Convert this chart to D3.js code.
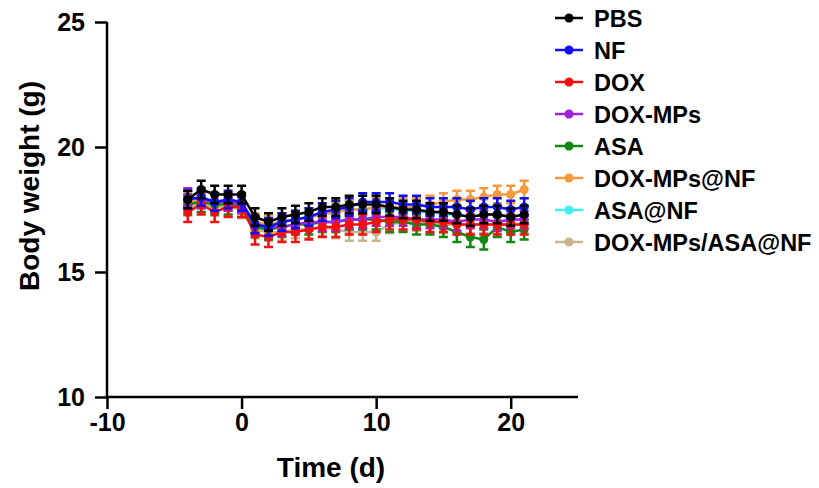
<!DOCTYPE html>
<html>
<head>
<meta charset="utf-8">
<script src="https://cdn.jsdelivr.net/npm/d3@7"></script>
<style>
  body { margin: 0; background: #fff; }
  svg text { font-family: "Liberation Sans", Arial, sans-serif; font-weight: bold; fill: #000; }
</style>
</head>
<body>
<svg id="chart" width="819" height="488"></svg>
<script>
// days of measurement
const days = [-4,-3,-2,-1,0,1,2,3,4,5,6,7,8,9,10,11,12,13,14,15,16,17,18,19,20,21];
const seriesNames = ["PBS","NF","DOX","DOX-MPs","ASA","DOX-MPs@NF","ASA@NF","DOX-MPs/ASA@NF"];
const seriesColors = ["#000000","#1010f0","#f01010","#a020e0","#118811","#f59a3c","#40f0f0","#c8b48c"];

const pbs      = [17.9,18.3,18.1,18.1,18.1,17.2,17.0,17.2,17.3,17.4,17.6,17.6,17.7,17.7,17.7,17.6,17.5,17.5,17.4,17.4,17.3,17.2,17.3,17.3,17.2,17.3];
const nf       = [17.9,18.0,17.8,17.9,17.8,16.9,16.8,17.0,17.1,17.2,17.4,17.5,17.6,17.8,17.8,17.8,17.7,17.7,17.6,17.6,17.6,17.5,17.6,17.6,17.5,17.6];
const dox      = [17.4,17.7,17.4,17.6,17.6,16.5,16.4,16.6,16.6,16.7,16.8,16.8,16.9,16.9,17.0,17.1,17.1,17.1,17.0,17.0,16.9,16.9,16.9,16.9,16.9,16.9];
const doxMPs   = [18.0,17.9,17.8,17.8,17.7,16.9,16.8,16.8,16.9,17.0,17.0,17.0,17.1,17.1,17.2,17.2,17.2,17.1,17.1,17.1,17.0,17.1,17.1,17.0,17.1,17.1];
const asa      = [17.7,17.8,17.7,17.7,17.6,16.8,16.7,16.8,16.9,16.9,17.0,17.0,17.1,17.1,17.1,17.0,17.0,16.9,16.9,16.8,16.6,16.4,16.3,16.8,16.6,16.7];
const doxMPsNF = [17.8,17.9,17.8,17.8,17.7,17.0,16.9,17.0,17.1,17.2,17.3,17.4,17.5,17.5,17.6,17.6,17.6,17.6,17.7,17.8,17.9,17.9,18.0,18.1,18.1,18.3];
const asaNF    = [17.8,17.9,17.8,17.8,17.7,17.0,16.9,17.0,17.1,17.2,17.3,17.4,17.5,17.5,17.6,17.5,17.5,17.4,17.4,17.3,17.3,17.2,17.3,17.3,17.2,17.3];
const comboNF  = [17.6,17.7,17.6,17.6,17.5,16.7,16.6,16.6,16.7,16.7,16.8,16.7,16.6,16.6,16.6,16.9,17.0,17.0,16.9,16.9,16.9,16.9,16.9,16.9,16.9,16.9];
const seriesValues = [pbs, nf, dox, doxMPs, asa, doxMPsNF, asaNF, comboNF];
// error bar half-length (SD) per series
const seriesSD = [0.35, 0.35, 0.4, 0.35, 0.4, 0.35, 0.3, 0.35];

const xTicks = [-10, 0, 10, 20];
const yTicks = [10, 15, 20, 25];

const svg = d3.select("#chart");
const x = d3.scaleLinear().domain([-10, 25]).range([107, 578]);
const y = d3.scaleLinear().domain([10, 25]).range([397, 22]);

// axes
const xAxis = svg.append("g")
    .attr("transform", "translate(0,397)")
    .call(d3.axisBottom(x).tickValues(xTicks).tickSize(12).tickPadding(4).tickFormat(d => String(d)));
const yAxis = svg.append("g")
    .attr("transform", "translate(107,0)")
    .call(d3.axisLeft(y).tickValues(yTicks).tickSize(12).tickPadding(10).tickFormat(d => String(d)));
[xAxis, yAxis].forEach(a => {
    a.select(".domain").attr("stroke", "#000").attr("stroke-width", 2.5);
    a.selectAll(".tick line").attr("stroke", "#000").attr("stroke-width", 2.5);
    a.selectAll(".tick text").attr("font-size", 25).attr("font-family", null);
});
xAxis.select(".domain").attr("d", "M107,0H578");
yAxis.select(".domain").attr("d", "M0,22V397");

svg.append("text")
    .attr("x", 331).attr("y", 477)
    .attr("text-anchor", "middle")
    .attr("font-size", 28)
    .text("Time (d)");
svg.append("text")
    .attr("transform", "translate(39,186) rotate(-90)")
    .attr("text-anchor", "middle")
    .attr("font-size", 28)
    .text("Body weight (g)");

// series, drawn last-to-first so PBS sits on top
const line = d3.line().x((d, i) => x(days[i])).y(d => y(d));
const capW = 4.5;
for (let s = seriesValues.length - 1; s >= 0; s--) {
    const vals = seriesValues[s];
    const col = seriesColors[s];
    const sd = seriesSD[s];
    const g = svg.append("g");
    g.append("path")
        .attr("d", line(vals))
        .attr("fill", "none")
        .attr("stroke", col)
        .attr("stroke-width", 2.5);
    const eb = g.selectAll("g.eb").data(vals).enter().append("g");
    eb.append("line")
        .attr("x1", (d, i) => x(days[i])).attr("x2", (d, i) => x(days[i]))
        .attr("y1", d => y(d + sd)).attr("y2", d => y(d - sd))
        .attr("stroke", col).attr("stroke-width", 2.5);
    eb.append("line")
        .attr("x1", (d, i) => x(days[i]) - capW).attr("x2", (d, i) => x(days[i]) + capW)
        .attr("y1", d => y(d + sd)).attr("y2", d => y(d + sd))
        .attr("stroke", col).attr("stroke-width", 2.5);
    eb.append("line")
        .attr("x1", (d, i) => x(days[i]) - capW).attr("x2", (d, i) => x(days[i]) + capW)
        .attr("y1", d => y(d - sd)).attr("y2", d => y(d - sd))
        .attr("stroke", col).attr("stroke-width", 2.5);
    eb.append("circle")
        .attr("cx", (d, i) => x(days[i])).attr("cy", d => y(d))
        .attr("r", 4.5).attr("fill", col);
}

// legend
const legend = svg.append("g");
seriesNames.forEach((name, i) => {
    const ly = 18 + i * 32;
    legend.append("line")
        .attr("x1", 555).attr("x2", 583).attr("y1", ly).attr("y2", ly)
        .attr("stroke", seriesColors[i]).attr("stroke-width", 2.5);
    legend.append("circle")
        .attr("cx", 569).attr("cy", ly).attr("r", 4.5).attr("fill", seriesColors[i]);
    legend.append("text")
        .attr("x", 594).attr("y", ly + 8.5)
        .attr("font-size", 23.5)
        .text(name);
});
</script>
</body>
</html>
